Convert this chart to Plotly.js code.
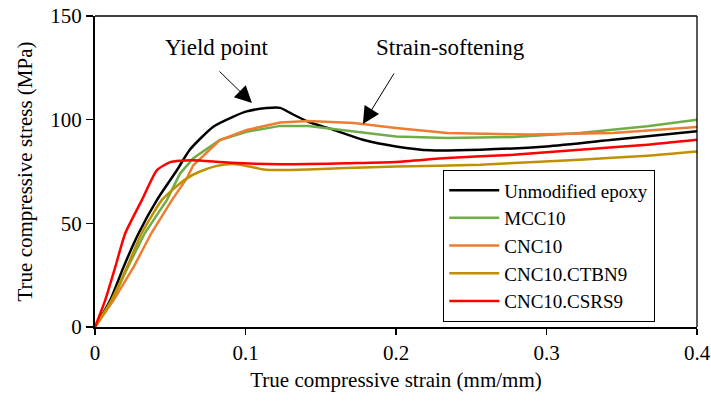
<!DOCTYPE html>
<html>
<head>
<meta charset="utf-8">
<script src="https://cdn.plot.ly/plotly-3.0.1.min.js"></script>
<style>html,body{margin:0;padding:0;background:#fff;}#chart{width:711px;height:402px;}</style>
</head>
<body>
<div id="chart"></div>
<script>
// Series names
const seriesNames = ["Unmodified epoxy", "MCC10", "CNC10", "CNC10.CTBN9", "CNC10.CSRS9"];

// Unmodified epoxy
const epoxyX = [0, 0.0102, 0.019, 0.029, 0.0412, 0.0545, 0.063, 0.0786, 0.092, 0.1008, 0.114, 0.123, 0.13, 0.1417, 0.158, 0.178, 0.2, 0.223, 0.256, 0.3, 0.344, 0.4];
const epoxyY = [0, 13, 29, 45.2, 61.3, 75.7, 85.5, 96.6, 101.5, 104, 105.6, 105.7, 103.1, 99, 95.2, 90.3, 87.1, 85.2, 85.5, 87.1, 90.3, 94.4];

// MCC10
const mccX = [0, 0.0115, 0.0219, 0.033, 0.0478, 0.0565, 0.0653, 0.083, 0.1008, 0.123, 0.1417, 0.178, 0.2, 0.234, 0.278, 0.322, 0.367, 0.4];
const mccY = [0, 13, 29, 45.2, 61.3, 74, 81.4, 90.2, 94.2, 97, 97, 93.6, 91.9, 91.2, 91.6, 93.6, 96.8, 100];

// CNC10
const cncX = [0, 0.0124, 0.0257, 0.0374, 0.0512, 0.061, 0.0653, 0.083, 0.1008, 0.123, 0.1417, 0.172, 0.2, 0.234, 0.289, 0.344, 0.4];
const cncY = [0, 13, 29, 45.2, 61.3, 71.7, 78, 90.2, 95, 98.6, 99.4, 98.4, 96, 93.6, 92.8, 93.6, 96.5];

// CNC10.CTBN9
const ctbnX = [0, 0.011, 0.0213, 0.031, 0.0445, 0.052, 0.061, 0.0698, 0.0809, 0.092, 0.1008, 0.112, 0.123, 0.1417, 0.167, 0.2, 0.256, 0.322, 0.367, 0.4];
const ctbnY = [0, 13, 29, 45.2, 61.3, 66.5, 71.7, 75, 77.7, 78.6, 77.7, 76, 75.7, 76, 76.7, 77.4, 78.3, 80.7, 82.6, 84.7];

// CNC10.CSRS9
const csrsX = [0, 0.0068, 0.0135, 0.0201, 0.0312, 0.0412, 0.05, 0.0565, 0.065, 0.09, 0.123, 0.1417, 0.167, 0.2, 0.234, 0.278, 0.322, 0.367, 0.4];
const csrsY = [0, 13, 29, 45.2, 61.3, 75.7, 79.5, 80.2, 80.4, 79.2, 78.5, 78.6, 79, 79.6, 81.5, 83.1, 85.5, 87.9, 90.3];

// Tick labels
const xTicks = [0, 0.1, 0.2, 0.3, 0.4];
const xTickText = ["0", "0.1", "0.2", "0.3", "0.4"];
const yTicks = [0, 50, 100, 150];
const yTickText = ["0", "50", "100", "150"];

const colors = ["#000000", "#70AD47", "#ED7D31", "#BF9000", "#FF0000"];
const shapes = ["spline", "linear", "linear", "spline", "spline"];
const xs = [epoxyX, mccX, cncX, ctbnX, csrsX];
const ys = [epoxyY, mccY, cncY, ctbnY, csrsY];

const FONT = "serif";

const traces = seriesNames.map((n, i) => ({
  type: "scatter", mode: "lines", name: n,
  x: xs[i], y: ys[i],
  line: {color: colors[i], width: 2.5, shape: shapes[i], smoothing: 0.6}
}));

const layout = {
  width: 711, height: 402,
  margin: {l: 95, r: 14, t: 16, b: 75},
  paper_bgcolor: "#fff", plot_bgcolor: "#fff",
  font: {family: FONT, color: "#000", size: 20},
  showlegend: true,
  legend: {
    x: 0.578, y: 0.016, xanchor: "left", yanchor: "bottom",
    bgcolor: "#fff", bordercolor: "#000", borderwidth: 1.3,
    font: {family: FONT, size: 19, color: "#000"},
    tracegroupgap: 0, itemwidth: 50
  },
  xaxis: {
    range: [0, 0.4], tickvals: xTicks, ticktext: xTickText,
    ticks: "outside", ticklen: 6, tickwidth: 1.5, tickcolor: "#000",
    showline: true, linecolor: "#000", linewidth: 2,
    showgrid: false, zeroline: false,
    tickfont: {family: FONT, size: 21, color: "#000"},
    title: {text: "True compressive strain (mm/mm)", standoff: 8, font: {family: FONT, size: 21, color: "#000"}}
  },
  yaxis: {
    range: [0, 150], tickvals: yTicks, ticktext: yTickText,
    ticks: "outside", ticklen: 7, tickwidth: 1.5, tickcolor: "#000",
    showline: true, linecolor: "#000", linewidth: 2,
    showgrid: false, zeroline: false,
    tickfont: {family: FONT, size: 21, color: "#000"},
    title: {text: "True compressive stress (MPa)", standoff: 12, font: {family: FONT, size: 21, color: "#000"}}
  },
  shapes: [
    {type: "line", xref: "paper", yref: "paper", x0: 0, x1: 1, y0: 1, y1: 1, line: {color: "#000", width: 1.3}},
    {type: "line", xref: "paper", yref: "paper", x0: 1, x1: 1, y0: 0, y1: 1, line: {color: "#000", width: 1.3}}
  ],
  annotations: [
    {x: 0.081, y: 135, xref: "x", yref: "y", text: "Yield point", showarrow: false,
     font: {family: FONT, size: 23, color: "#000"}},
    {x: 0.236, y: 134.6, xref: "x", yref: "y", text: "Strain-softening", showarrow: false,
     font: {family: FONT, size: 23, color: "#000"}},
    {x: 0.1043, y: 108, ax: 0.0817, ay: 124, xref: "x", yref: "y", axref: "x", ayref: "y",
     text: "", showarrow: true, arrowhead: 2, arrowsize: 3.4, arrowwidth: 1, arrowcolor: "#000"},
    {x: 0.178, y: 97.9, ax: 0.1993, ay: 123, xref: "x", yref: "y", axref: "x", ayref: "y",
     text: "", showarrow: true, arrowhead: 2, arrowsize: 3.4, arrowwidth: 1, arrowcolor: "#000"}
  ]
};

Plotly.newPlot("chart", traces, layout, {staticPlot: true, displayModeBar: false});
</script>
</body>
</html>
